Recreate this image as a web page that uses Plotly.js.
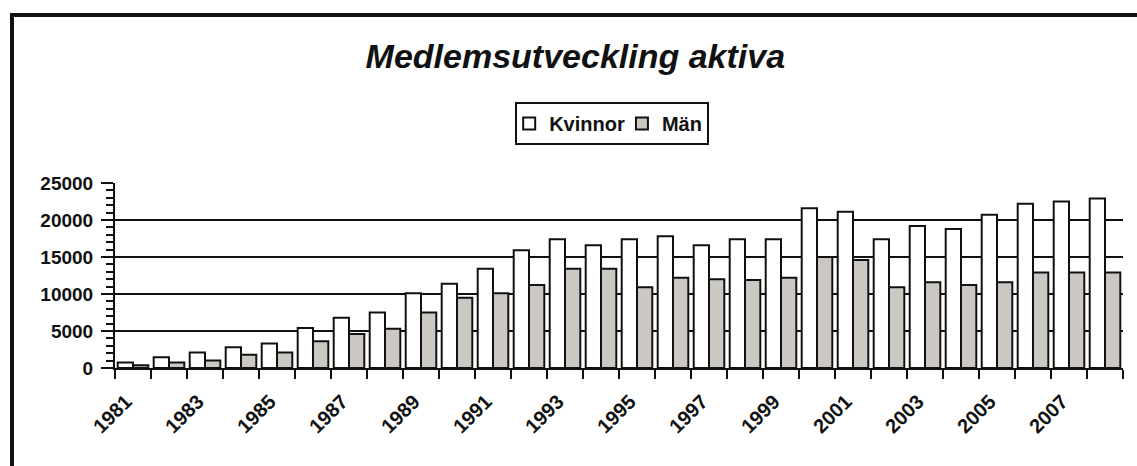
<!DOCTYPE html>
<html>
<head>
<meta charset="utf-8">
<script src="https://cdn.plot.ly/plotly-3.0.1.min.js"></script>
<style>
  html, body { margin:0; padding:0; background:#fff; overflow:hidden; }
  #chart { position:absolute; left:0; top:0; width:1137px; height:466px; }
</style>
</head>
<body>
<div id="chart"></div>
<script>
const years = ['1981','1982','1983','1984','1985','1986','1987','1988','1989','1990',
               '1991','1992','1993','1994','1995','1996','1997','1998','1999','2000',
               '2001','2002','2003','2004','2005','2006','2007','2008'];
const kvinnor = [730, 1450, 2100, 2800, 3300, 5400, 6800, 7500, 10100, 11400,
                 13400, 15900, 17400, 16600, 17400, 17800, 16600, 17400, 17400, 21600,
                 21100, 17400, 19200, 18800, 20700, 22200, 22500, 22900];
const man = [370, 750, 1000, 1800, 2100, 3600, 4600, 5300, 7500, 9500,
             10100, 11200, 13400, 13400, 10900, 12200, 12000, 11900, 12200, 15000,
             14600, 10900, 11600, 11200, 11600, 12900, 12900, 12900];
const tickLabels = years.map((y, i) => (i % 2 === 0 ? y : ''));
const seriesNames = ['Kvinnor', 'Män'];
const titleText = 'Medlemsutveckling aktiva';

const FONT = '"Liberation Sans", Arial, sans-serif';

const W = 1137, H = 466;
const M = { l:115, r:14, t:183, b:98 };
const plotW = W - M.l - M.r, plotH = H - M.t - M.b;
const frameLeftPx = 12, frameTopPx = 15;
const fx = (frameLeftPx - M.l) / plotW;
const fy = (H - M.b - frameTopPx) / plotH;

const traces = [
  { type:'bar', name:seriesNames[0], x:years, y:kvinnor,
    marker:{ color:'#ffffff', line:{ color:'#111', width:2 } }, hoverinfo:'skip' },
  { type:'bar', name:seriesNames[1], x:years, y:man,
    marker:{ color:'#cbc8c3', line:{ color:'#111', width:2 } }, hoverinfo:'skip' }
];

const layout = {
  width:W, height:H, autosize:false,
  margin:{ l:M.l, r:M.r, t:M.t, b:M.b, pad:0 },
  paper_bgcolor:'#ffffff', plot_bgcolor:'rgba(0,0,0,0)',
  font:{ family:FONT, color:'#111' },
  title:{ text:'<b><i>' + titleText + '</i></b>', font:{ family:FONT, size:34, color:'#111' },
          x:0.506, xref:'container', xanchor:'center', y:0.88, yref:'container', yanchor:'middle' },
  barmode:'group', bargap:0.15, bargroupgap:0,
  showlegend:true,
  legend:{ orientation:'h', x:0.397, xanchor:'left', y:1.438, yanchor:'top',
           bordercolor:'#111', borderwidth:2, bgcolor:'#fff', indentation:-8,
           font:{ family:FONT, size:20, color:'#111', weight:'bold' },
           itemwidth:30, traceorder:'normal' },
  shapes:[
    { type:'line', xref:'paper', yref:'paper', x0:fx, x1:fx, y0:fy + 0.01, y1:-1,
      line:{ color:'#111', width:4 }, layer:'above' },
    { type:'line', xref:'paper', yref:'paper', x0:fx - 0.002, x1:1.1, y0:fy, y1:fy,
      line:{ color:'#111', width:4 }, layer:'above' }
  ],
  xaxis:{ type:'category', tickvals:years, ticktext:tickLabels, tickson:'boundaries',
          ticks:'outside', ticklen:9, tickwidth:2, tickcolor:'#111',
          tickangle:-45, tickfont:{ family:FONT, size:20, color:'#111', weight:'bold' },
          ticklabelstandoff:12, ticklabelshift:-7,
          showline:true, linecolor:'#111', linewidth:2, showgrid:false, zeroline:false,
          range:[-0.5, years.length - 0.5], fixedrange:true },
  xaxis2:{ overlaying:'x', anchor:'y', type:'linear', range:[-0.5, years.length - 0.5],
           tickmode:'linear', tick0:-0.5, dtick:1, ticks:'inside', ticklen:5, tickwidth:2,
           tickcolor:'#111', showticklabels:false, showgrid:false, zeroline:false, showline:false,
           side:'bottom' },
  yaxis:{ range:[0, 25000], tickmode:'linear', tick0:0, dtick:5000, tickformat:'d',
          ticks:'outside', ticklen:12, tickwidth:2, tickcolor:'#111',
          tickfont:{ family:FONT, size:19, color:'#111', weight:'bold' },
          ticklabelstandoff:4,
          minor:{ dtick:1000, ticks:'outside', ticklen:7, tickwidth:2, tickcolor:'#111', showgrid:false },
          showgrid:true, gridcolor:'#111', gridwidth:2,
          showline:true, linecolor:'#111', linewidth:2, zeroline:false, fixedrange:true },
  yaxis2:{ overlaying:'y', anchor:'x', side:'left', range:[0, 25000],
           tickmode:'linear', tick0:0, dtick:1000, ticks:'inside', ticklen:6, tickwidth:2,
           tickcolor:'#111', showticklabels:false, showgrid:false, zeroline:false, showline:false }
};

Plotly.newPlot('chart', traces, layout, { staticPlot:true, displayModeBar:false });
</script>
</body>
</html>
